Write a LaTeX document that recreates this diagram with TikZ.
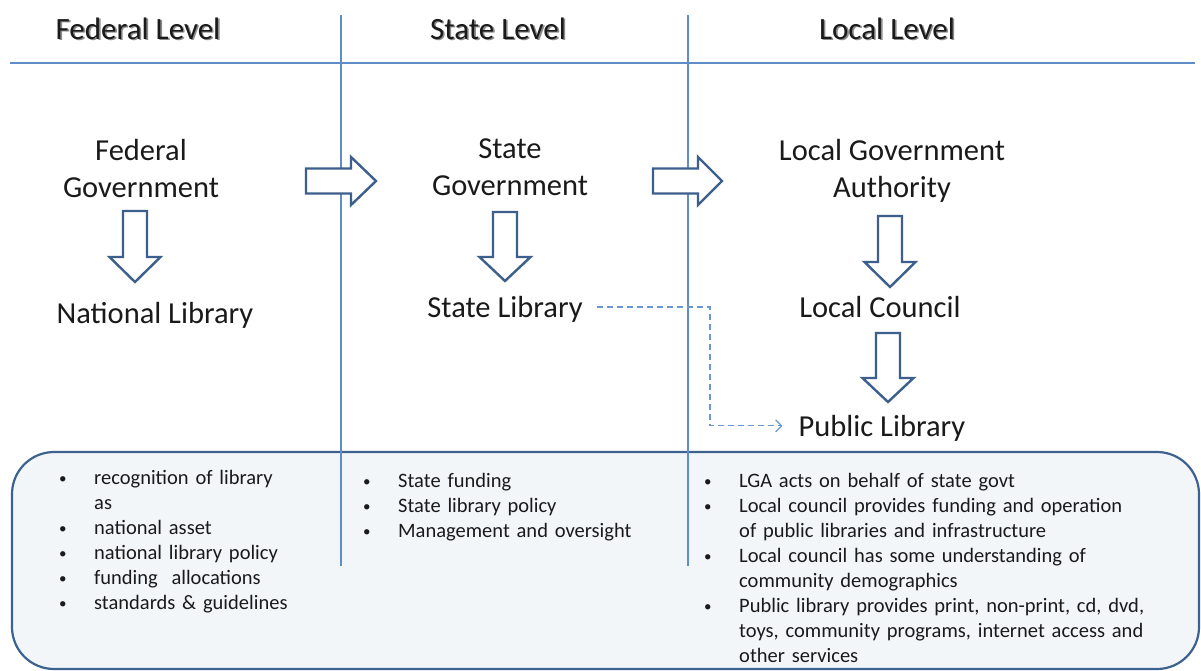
\documentclass[tikz,border=0pt]{standalone}
\usepackage{fontspec}
\setmainfont{Carlito}
\usetikzlibrary{arrows.meta}
\definecolor{gridblue}{HTML}{5F8DC8}
\definecolor{arrowblue}{HTML}{3C5F8C}
\definecolor{boxline}{HTML}{3E6290}
\definecolor{boxfill}{HTML}{F2F6F9}
\definecolor{txt}{HTML}{1A1A1A}
\definecolor{dashblue}{HTML}{6A96D2}
\newcommand{\shadowtext}[1]{\rlap{\color{black!45}\raisebox{-1.6pt}{\hspace{1.6pt}#1}}#1}
\newcommand{\smallbullet}{\raisebox{1.5pt}{\fontsize{15}{15}\selectfont\textbullet}}
\newcommand{\bitem}[1]{\par\hangindent=35pt\hangafter=1\noindent\strut\makebox[35pt][l]{\smallbullet}#1}
\newcommand{\blkdown}[4]{\draw[blockarrow] (#1-12,#2) -- (#1+12,#2) -- (#1+12,#3) -- (#1+25.5,#3) -- (#1,#4) -- (#1-25.5,#3) -- (#1-12,#3) -- cycle;}
\newcommand{\blkright}[4]{\draw[blockarrow] (#1,#2-12.5) -- (#3,#2-12.5) -- (#3,#2-24) -- (#4,#2) -- (#3,#2+24) -- (#3,#2+12.5) -- (#1,#2+12.5) -- cycle;}
\tikzset{
  gridline/.style={draw=gridblue, line width=1.3pt},
  blockarrow/.style={draw=arrowblue, line width=2.4pt, line join=miter, fill=white},
  header/.style={font=\fontsize{31}{37}\selectfont, text=txt, inner sep=0pt, anchor=base},
  lbl/.style={font=\fontsize{30.5}{37}\selectfont, text=txt, inner sep=0pt, align=center, anchor=base},
  blist/.style={font=\fontsize{20.5}{25}\selectfont, text=txt, inner sep=0pt, anchor=north west},
  dashconn/.style={draw=dashblue, line width=1.2pt, dash pattern=on 6pt off 4pt, -{Straight Barb[length=6pt,width=12pt]}},
  infobox/.style={draw=boxline, fill=boxfill, line width=2.2pt, rounded corners=42pt}
}
\begin{document}
\begin{tikzpicture}[x=1pt, y=-1pt]
\useasboundingbox (0,0) rectangle (1201,670);
\fill[white] (0,0) rectangle (1201,670);
% info box
\draw[infobox] (12,452) rectangle (1199,669);
% grid lines
\coordinate (hl) at (10,63);
\coordinate (hr) at (1195,63);
\coordinate (v1t) at (341,15);
\coordinate (v1b) at (341,566);
\coordinate (v2t) at (688,15);
\coordinate (v2b) at (688,566);
\draw[gridline] (hl) -- (hr);
\draw[gridline] (v1t) -- (v1b);
\draw[gridline] (v2t) -- (v2b);
% headers
\node[header] (hfed) at (138,39) {\shadowtext{Federal Level}};
\node[header] (hstate) at (498,39) {\shadowtext{State Level}};
\node[header] (hlocal) at (887,39) {\shadowtext{Local Level}};
% labels
\node[lbl] (fedgov) at (141,197) {Federal\\Government};
\node[lbl] (natlib) at (155,323) {National Library};
\node[lbl] (stgov) at (510,195) {State\\Government};
\node[lbl] (stlib) at (505,317) {State Library};
\node[lbl] (lga) at (892,197) {Local Government\\Authority};
\node[lbl] (lcouncil) at (880,317) {Local Council};
\node[lbl] (publib) at (882,436) {Public Library};
% block arrows
\blkdown{135}{211}{257}{282}
\blkdown{505}{212}{257}{281}
\blkdown{890}{216}{262}{287}
\blkdown{888}{333}{378}{402}
\blkright{306}{181}{351}{376}
\blkright{653}{181}{698}{722}
% dashed connector
\coordinate (dbend) at (710,307);
\coordinate (dstart) at ([xshift=14pt]stlib.east);
\draw[dashconn] (dstart |- dbend) -- (dbend) |- ([xshift=-16pt,yshift=2pt]publib.west);
% bullet lists
\node[blist, text width=240pt] (listfed) at (59,459.5) {\raggedright
\bitem{recognition of library\newline as}
\bitem{national asset}
\bitem{national library policy}
\bitem{funding\ \ allocations}
\bitem{standards \& guidelines}\par};
\node[blist, text width=300pt] (liststate) at (363,462.5) {\raggedright
\bitem{State funding}
\bitem{State library policy}
\bitem{Management and oversight}\par};
\node[blist, text width=470pt] (listlocal) at (704,462.5) {\raggedright
\bitem{LGA acts on behalf of state govt}
\bitem{Local council provides funding and operation\newline of public libraries and infrastructure}
\bitem{Local council has some understanding of\newline community demographics}
\bitem{Public library provides print, non-print, cd, dvd,\newline toys, community programs, internet access and\newline other services}\par};
\end{tikzpicture}
\end{document}
